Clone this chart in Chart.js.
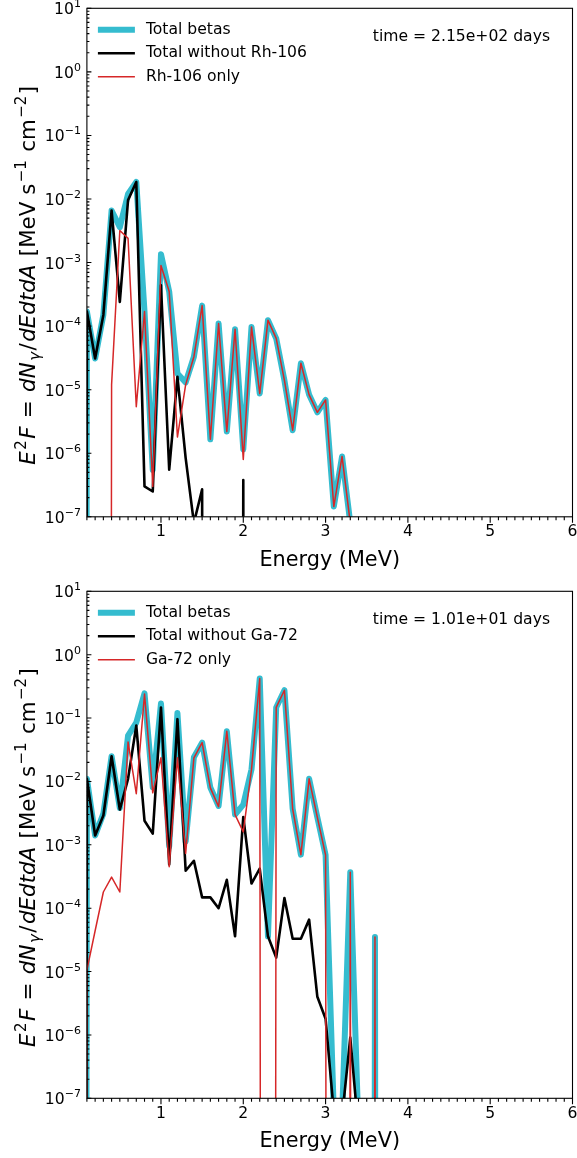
<!DOCTYPE html>
<html>
<head>
<meta charset="utf-8">
<script src="https://cdn.jsdelivr.net/npm/chart.js@4/dist/chart.umd.min.js"></script>
<style>
html, body { margin: 0; padding: 0; background: #fff; }
.box { width: 577px; height: 579px; }
canvas { display: block; }
</style>
</head>
<body>
<div class="box"><canvas id="rh" width="577" height="579"></canvas></div>
<div class="box"><canvas id="ga" width="577" height="579"></canvas></div>
<script>
// energy grid (MeV)
const energies = [0.0, 0.1, 0.2, 0.3, 0.4, 0.5, 0.6, 0.7, 0.8, 0.9,
  1.0, 1.1, 1.2, 1.3, 1.4, 1.5, 1.6, 1.7, 1.8, 1.9,
  2.0, 2.1, 2.2, 2.3, 2.4, 2.5, 2.6, 2.7, 2.8, 2.9,
  3.0, 3.1, 3.2, 3.3, 3.4, 3.5, 3.6, 3.7];

// top panel: t = 215 days
const rhTotal = [0, 1.7e-4, 3.1e-5, 1.5e-4, 6.6e-3, 3.6e-3, 1.2e-2, 1.85e-2, 1.7e-4, 5.5e-7,
  1.35e-3, 3.5e-4, 1.8e-5, 1.3e-5, 3.3e-5, 2.1e-4, 1.66e-6, 1.1e-4, 2.2e-6, 8.9e-5,
  1.15e-6, 9.7e-5, 8.7e-6, 1.24e-4, 6.4e-5, 1.4e-5, 2.3e-6, 2.6e-5, 8.3e-6, 4.4e-6,
  6.9e-6, 1.45e-7, 8.9e-7, 8e-8, 0, 0, 0, 0];
const rhOther = [0, 1.7e-4, 3.1e-5, 1.5e-4, 6.6e-3, 2.4e-4, 9.6e-3, 1.85e-2, 3.0e-7, 2.5e-7,
  4.4e-4, 5.5e-7, 1.6e-5, 8.4e-7, 8e-8, 2.7e-7, 0, 0, 0, 0,
  3.8e-7, 0, 0, 0, 0, 0, 0, 0, 0, 0,
  0, 0, 0, 0, 0, 0, 0, 0];
const rhOnly = [0, 0, 0, 0, 1.2e-5, 3.2e-3, 2.4e-3, 5.4e-6, 1.7e-4, 3.0e-7,
  9.0e-4, 3.5e-4, 1.8e-6, 1.2e-5, 3.3e-5, 2.1e-4, 1.66e-6, 1.1e-4, 2.2e-6, 8.9e-5,
  8.0e-7, 9.7e-5, 8.7e-6, 1.24e-4, 6.4e-5, 1.4e-5, 2.3e-6, 2.6e-5, 8.3e-6, 4.4e-6,
  6.9e-6, 1.45e-7, 8.9e-7, 8e-8, 0, 0, 0, 0];

// bottom panel: t = 10.1 days
const gaTotal = [0, 1.1e-2, 1.4e-3, 3.1e-3, 2.5e-2, 3.8e-3, 5.3e-2, 8.5e-2, 0.245, 8.1e-3,
  0.17, 9.5e-4, 0.12, 1.13e-3, 2.4e-2, 4.1e-2, 8.0e-3, 4.1e-3, 6.2e-2, 3.0e-3,
  4.3e-3, 1.55e-2, 0.42, 3.6e-5, 0.147, 0.275, 3.7e-3, 7.0e-4, 1.1e-2, 2.7e-3,
  6.9e-4, 6e-8, 5e-8, 3.7e-4, 3e-8, 0, 3.5e-5, 0];
const gaOther = [0, 1.1e-2, 1.4e-3, 2.9e-3, 2.5e-2, 3.6e-3, 1.1e-2, 7.6e-2, 2.4e-3, 1.5e-3,
  0.146, 4.9e-4, 9.6e-2, 3.9e-4, 5.6e-4, 1.48e-4, 1.48e-4, 1.0e-4, 2.8e-4, 3.6e-5,
  2.75e-3, 2.45e-4, 4.2e-4, 3.6e-5, 1.66e-5, 1.45e-4, 3.3e-5, 3.3e-5, 6.6e-5, 4.0e-6,
  1.8e-6, 6e-8, 5e-8, 9.1e-7, 3e-8, 0, 0, 0];
const gaOnly = [0, 1.05e-5, 4.4e-5, 1.8e-4, 3.1e-4, 1.8e-4, 4.2e-2, 6.4e-3, 0.24, 6.6e-3,
  2.36e-2, 4.5e-4, 2.36e-2, 7.3e-4, 2.36e-2, 4.1e-2, 7.9e-3, 4.0e-3, 6.2e-2, 3.0e-3,
  1.6e-3, 1.55e-2, 0.42, 0, 0.147, 0.275, 3.7e-3, 7.0e-4, 1.1e-2, 2.7e-3,
  6.9e-4, 0, 0, 3.7e-4, 0, 0, 3.5e-5, 0];

const xTicks = [1, 2, 3, 4, 5, 6];
const yDecades = [-7, -6, -5, -4, -3, -2, -1, 0, 1];

const FONT = "'DejaVu Sans', sans-serif";
const CYAN = '#35bccf';
const RED = '#d62728';

// zero flux is drawn as a near-vertical drop, like a clipped log axis
function points(vals) {
  return energies.map((e, i) => ({ x: e, y: vals[i] > 0 ? vals[i] : 1e-100 }));
}

function yLabel(ctx, cx, cy) {
  const runs = [
    ['E', 'i'], ['2', 'sup'], ['F', 'i'], [' = ', 'n'], ['dN', 'i'], ['\u03b3', 'subi'],
    ['/', 'n'], ['dEdtdA', 'i'], [' [MeV s', 'n'], ['\u22121', 'sup'], [' cm', 'n'],
    ['\u22122', 'sup'], [']', 'n']
  ];
  const size = 21.4;
  const gap = 1.5; // small mathtext-like spacing between runs
  const fontFor = k => {
    const s = (k === 'sup' || k === 'subi') ? size * 0.7 : size;
    const it = (k === 'i' || k === 'subi') ? 'oblique ' : '';
    return it + s + 'px ' + FONT;
  };
  let total = 0;
  for (const [t, k] of runs) { ctx.font = fontFor(k); total += ctx.measureText(t).width + gap; }
  ctx.save();
  ctx.translate(cx, cy);
  ctx.rotate(-Math.PI / 2);
  ctx.fillStyle = '#000';
  ctx.textBaseline = 'alphabetic';
  ctx.textAlign = 'left';
  let x = -total / 2;
  for (const [t, k] of runs) {
    ctx.font = fontFor(k);
    const dy = k === 'sup' ? -size * 0.42 : (k === 'subi' ? size * 0.22 : 0);
    ctx.fillText(t, x, dy);
    x += ctx.measureText(t).width + gap;
  }
  ctx.restore();
}

const decor = {
  id: 'decor',
  afterDatasetsDraw(chart, args, opts) {
    const ctx = chart.ctx, a = chart.chartArea;
    const xs = chart.scales.x, ys = chart.scales.y;
    ctx.save();
    ctx.strokeStyle = '#000';
    ctx.lineWidth = 1.1;
    ctx.strokeRect(a.left, a.top, a.right - a.left, a.bottom - a.top);

    // x ticks, outward
    ctx.beginPath();
    for (let i = 1; i <= 60; i++) {
      const px = xs.getPixelForValue(i / 10);
      const len = i % 10 === 0 ? 6 : 3.5;
      ctx.moveTo(px, a.bottom);
      ctx.lineTo(px, a.bottom + len);
    }
    // y ticks, inward
    for (const d of yDecades) {
      const py = ys.getPixelForValue(Math.pow(10, d));
      ctx.moveTo(a.left, py);
      ctx.lineTo(a.left + 4.5, py);
      if (d < 1) {
        for (let m = 2; m <= 9; m++) {
          const pm = ys.getPixelForValue(m * Math.pow(10, d));
          ctx.moveTo(a.left, pm);
          ctx.lineTo(a.left + 2.5, pm);
        }
      }
    }
    ctx.stroke();

    ctx.fillStyle = '#000';
    // x tick labels
    ctx.font = '15.6px ' + FONT;
    ctx.textAlign = 'center';
    ctx.textBaseline = 'middle';
    for (const v of xTicks) {
      ctx.fillText(String(v), xs.getPixelForValue(v), a.bottom + 15.5);
    }

    // y tick labels
    ctx.textAlign = 'left';
    ctx.textBaseline = 'alphabetic';
    const right = a.left - 6;
    for (const d of yDecades) {
      const py = ys.getPixelForValue(Math.pow(10, d));
      const ex = d < 0 ? '\u2212' + (-d) : String(d);
      ctx.font = '11px ' + FONT;
      const we = ctx.measureText(ex).width;
      ctx.fillText(ex, right - we, py - 1);
      ctx.font = '15.6px ' + FONT;
      const wb = ctx.measureText('10').width;
      ctx.fillText('10', right - we - wb, py + 6);
    }

    yLabel(ctx, 35, (a.top + a.bottom) / 2 + 12);

    // legend
    const rows = [21.5, 45, 68.5];
    ctx.font = '15.6px ' + FONT;
    ctx.textBaseline = 'middle';
    chart.data.datasets.forEach((ds, i) => {
      const y = a.top + rows[i];
      ctx.beginPath();
      ctx.strokeStyle = ds.borderColor;
      ctx.lineWidth = ds.borderWidth;
      ctx.moveTo(a.left + 11, y);
      ctx.lineTo(a.left + 48, y);
      ctx.stroke();
      ctx.fillText(ds.label, a.left + 59, y);
    });

    ctx.textAlign = 'right';
    ctx.fillText(opts.time, a.right - 22.5, a.top + 29);
    ctx.restore();
  }
};

function makeChart(id, nuclide, total, other, only, time, areaTop, areaBottom, titlePad) {
  return new Chart(document.getElementById(id), {
    type: 'line',
    data: {
      datasets: [
        { label: 'Total betas', data: points(total), borderColor: CYAN, borderWidth: 6, order: 3 },
        { label: 'Total without ' + nuclide, data: points(other), borderColor: '#000', borderWidth: 2.6, order: 2 },
        { label: nuclide + ' only', data: points(only), borderColor: RED, borderWidth: 1.5, order: 1 }
      ]
    },
    options: {
      responsive: false,
      animation: false,
      layout: { padding: { top: areaTop, right: 4.5, left: 0, bottom: 0 } },
      elements: {
        point: { radius: 0 },
        line: { tension: 0, borderJoinStyle: 'round', fill: false }
      },
      datasets: { line: { clip: 0 } },
      plugins: {
        legend: { display: false },
        tooltip: { enabled: false },
        decor: { time: time }
      },
      scales: {
        x: {
          type: 'linear',
          min: 0.1,
          max: 6,
          grid: { display: false, drawTicks: false },
          border: { display: false },
          afterBuildTicks: s => { s.ticks = xTicks.map(v => ({ value: v })); },
          ticks: { display: false },
          title: {
            display: true,
            text: 'Energy (MeV)',
            color: '#000',
            font: { family: FONT, size: 20.8 },
            padding: { top: 0, bottom: titlePad }
          },
          afterFit: s => { s.height = 579 - areaBottom; }
        },
        y: {
          type: 'logarithmic',
          min: 1e-7,
          max: 10,
          grid: { display: false, drawTicks: false },
          border: { display: false },
          ticks: { display: false },
          afterFit: s => { s.width = 86.9; }
        }
      }
    },
    plugins: [decor]
  });
}

makeChart('rh', 'Rh-106', rhTotal, rhOther, rhOnly, 'time = 2.15e+02 days', 8.3, 516.8, 5.5);
makeChart('ga', 'Ga-72', gaTotal, gaOther, gaOnly, 'time = 1.01e+01 days', 12.3, 519.3, 3.5);
</script>
</body>
</html>
